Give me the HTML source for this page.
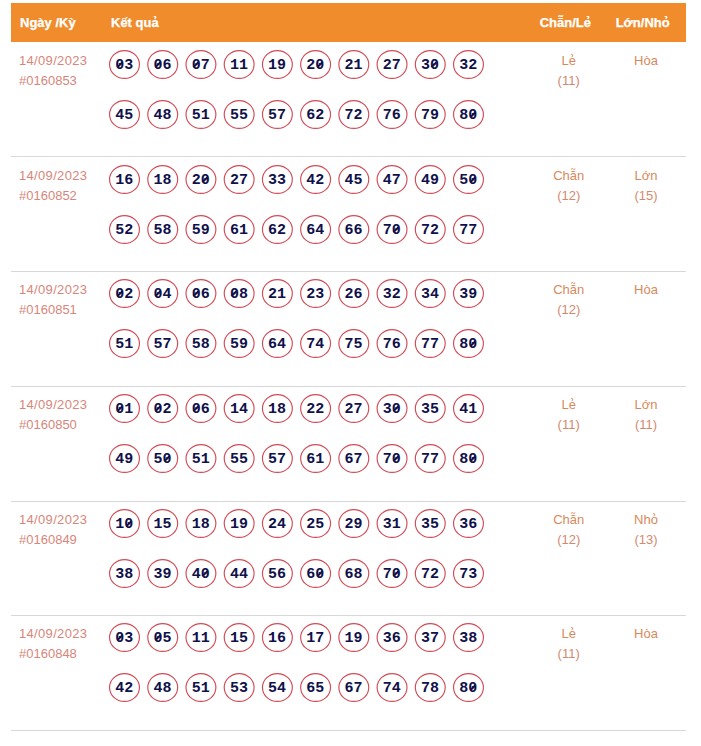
<!DOCTYPE html>
<html><head><meta charset="utf-8"><style>
html,body{margin:0;padding:0;background:#fff;width:701px;height:746px;overflow:hidden;position:relative}
body{font-family:"Liberation Sans",sans-serif}
.hd{position:absolute;left:11px;top:3px;width:675px;height:39px;background:#f08c2c}
.ht{position:absolute;color:#fff;font-weight:bold;-webkit-text-stroke:0.25px #fff;font-size:13px;line-height:20px;white-space:nowrap;top:13px}
.sep{position:absolute;left:11px;width:675px;height:1px;background:#d8d8d8}
.dt{position:absolute;left:19px;font-size:13px;line-height:20px;color:#d8867a;white-space:nowrap}
.b{position:absolute;box-sizing:border-box;width:31px;height:29px;
 font-family:"Liberation Mono",monospace;font-weight:bold;font-size:15px;color:#10104a;text-align:center;line-height:32px;letter-spacing:0px;text-indent:-0.5px}
.r{position:absolute;font-size:13px;line-height:20px;color:#d8895c;text-align:center;width:80px;white-space:nowrap}
.r2{color:#d38970;letter-spacing:0px}
.z{position:relative}
.hk{position:relative}
.hks{position:absolute}
.z::after{content:"";position:absolute;left:3.3px;top:4.3px;width:1.6px;height:7px;background:#10104a;transform:rotate(45deg)}
.d1{letter-spacing:0.33px}
</style></head><body>
<div class="hd"></div>
<div class="ht" style="left:20px">Ngày /Kỳ</div>
<div class="ht" style="left:111px">Kết qu<span class="hk">a<svg class="hks" width="4" height="5" style="left:1.72px;top:0.6px" fill="none" stroke="currentColor" stroke-width="1.3"><path d="M0.9 1.1C1.2 0.4 2.8 0.4 2.8 1.3C2.8 2 2 2.1 1.9 3.1"/></svg></span></div>
<div class="ht" style="left:525.4px;width:80px;text-align:center">Chẵn/L<span class="hk">e<svg class="hks" width="4" height="5" style="left:1.72px;top:0.6px" fill="none" stroke="currentColor" stroke-width="1.3"><path d="M0.9 1.1C1.2 0.4 2.8 0.4 2.8 1.3C2.8 2 2 2.1 1.9 3.1"/></svg></span></div>
<div class="ht" style="left:602.7px;width:80px;text-align:center">Lớn/Nh<span class="hk">o<svg class="hks" width="4" height="5" style="left:2.07px;top:0.6px" fill="none" stroke="currentColor" stroke-width="1.3"><path d="M0.9 1.1C1.2 0.4 2.8 0.4 2.8 1.3C2.8 2 2 2.1 1.9 3.1"/></svg></span></div>

<div class="dt" style="top:51px"><span class="d1">14/09/2023</span><br>#0160853</div>
<div class="b" style="left:109.00px;top:50px"><span class="z">0</span>3</div>
<div class="b" style="left:147.22px;top:50px"><span class="z">0</span>6</div>
<div class="b" style="left:185.44px;top:50px"><span class="z">0</span>7</div>
<div class="b" style="left:223.66px;top:50px">11</div>
<div class="b" style="left:261.88px;top:50px">19</div>
<div class="b" style="left:300.10px;top:50px">2<span class="z">0</span></div>
<div class="b" style="left:338.32px;top:50px">21</div>
<div class="b" style="left:376.54px;top:50px">27</div>
<div class="b" style="left:414.76px;top:50px">3<span class="z">0</span></div>
<div class="b" style="left:452.98px;top:50px">32</div>
<div class="b" style="left:109.00px;top:100px">45</div>
<div class="b" style="left:147.22px;top:100px">48</div>
<div class="b" style="left:185.44px;top:100px">51</div>
<div class="b" style="left:223.66px;top:100px">55</div>
<div class="b" style="left:261.88px;top:100px">57</div>
<div class="b" style="left:300.10px;top:100px">62</div>
<div class="b" style="left:338.32px;top:100px">72</div>
<div class="b" style="left:376.54px;top:100px">76</div>
<div class="b" style="left:414.76px;top:100px">79</div>
<div class="b" style="left:452.98px;top:100px">8<span class="z">0</span></div>
<div class="r" style="left:528.7px;top:51px">L<span class="hk">e<svg class="hks" width="4" height="5" style="left:1.72px;top:1.3px" fill="none" stroke="currentColor" stroke-width="1.0"><path d="M0.9 1.1C1.2 0.4 2.8 0.4 2.8 1.3C2.8 2 2 2.1 1.9 3.1"/></svg></span><br><span class="r2">(11)</span></div>
<div class="r" style="left:606px;top:51px">Hòa</div>
<div class="sep" style="top:156px"></div>
<div class="dt" style="top:166px"><span class="d1">14/09/2023</span><br>#0160852</div>
<div class="b" style="left:109.00px;top:165px">16</div>
<div class="b" style="left:147.22px;top:165px">18</div>
<div class="b" style="left:185.44px;top:165px">2<span class="z">0</span></div>
<div class="b" style="left:223.66px;top:165px">27</div>
<div class="b" style="left:261.88px;top:165px">33</div>
<div class="b" style="left:300.10px;top:165px">42</div>
<div class="b" style="left:338.32px;top:165px">45</div>
<div class="b" style="left:376.54px;top:165px">47</div>
<div class="b" style="left:414.76px;top:165px">49</div>
<div class="b" style="left:452.98px;top:165px">5<span class="z">0</span></div>
<div class="b" style="left:109.00px;top:215px">52</div>
<div class="b" style="left:147.22px;top:215px">58</div>
<div class="b" style="left:185.44px;top:215px">59</div>
<div class="b" style="left:223.66px;top:215px">61</div>
<div class="b" style="left:261.88px;top:215px">62</div>
<div class="b" style="left:300.10px;top:215px">64</div>
<div class="b" style="left:338.32px;top:215px">66</div>
<div class="b" style="left:376.54px;top:215px">7<span class="z">0</span></div>
<div class="b" style="left:414.76px;top:215px">72</div>
<div class="b" style="left:452.98px;top:215px">77</div>
<div class="r" style="left:528.7px;top:166px">Chẵn<br><span class="r2">(12)</span></div>
<div class="r" style="left:606px;top:166px">Lớn<br><span class="r2">(15)</span></div>
<div class="sep" style="top:271px"></div>
<div class="dt" style="top:280px"><span class="d1">14/09/2023</span><br>#0160851</div>
<div class="b" style="left:109.00px;top:279px"><span class="z">0</span>2</div>
<div class="b" style="left:147.22px;top:279px"><span class="z">0</span>4</div>
<div class="b" style="left:185.44px;top:279px"><span class="z">0</span>6</div>
<div class="b" style="left:223.66px;top:279px"><span class="z">0</span>8</div>
<div class="b" style="left:261.88px;top:279px">21</div>
<div class="b" style="left:300.10px;top:279px">23</div>
<div class="b" style="left:338.32px;top:279px">26</div>
<div class="b" style="left:376.54px;top:279px">32</div>
<div class="b" style="left:414.76px;top:279px">34</div>
<div class="b" style="left:452.98px;top:279px">39</div>
<div class="b" style="left:109.00px;top:329px">51</div>
<div class="b" style="left:147.22px;top:329px">57</div>
<div class="b" style="left:185.44px;top:329px">58</div>
<div class="b" style="left:223.66px;top:329px">59</div>
<div class="b" style="left:261.88px;top:329px">64</div>
<div class="b" style="left:300.10px;top:329px">74</div>
<div class="b" style="left:338.32px;top:329px">75</div>
<div class="b" style="left:376.54px;top:329px">76</div>
<div class="b" style="left:414.76px;top:329px">77</div>
<div class="b" style="left:452.98px;top:329px">8<span class="z">0</span></div>
<div class="r" style="left:528.7px;top:280px">Chẵn<br><span class="r2">(12)</span></div>
<div class="r" style="left:606px;top:280px">Hòa</div>
<div class="sep" style="top:386px"></div>
<div class="dt" style="top:395px"><span class="d1">14/09/2023</span><br>#0160850</div>
<div class="b" style="left:109.00px;top:394px"><span class="z">0</span>1</div>
<div class="b" style="left:147.22px;top:394px"><span class="z">0</span>2</div>
<div class="b" style="left:185.44px;top:394px"><span class="z">0</span>6</div>
<div class="b" style="left:223.66px;top:394px">14</div>
<div class="b" style="left:261.88px;top:394px">18</div>
<div class="b" style="left:300.10px;top:394px">22</div>
<div class="b" style="left:338.32px;top:394px">27</div>
<div class="b" style="left:376.54px;top:394px">3<span class="z">0</span></div>
<div class="b" style="left:414.76px;top:394px">35</div>
<div class="b" style="left:452.98px;top:394px">41</div>
<div class="b" style="left:109.00px;top:444px">49</div>
<div class="b" style="left:147.22px;top:444px">5<span class="z">0</span></div>
<div class="b" style="left:185.44px;top:444px">51</div>
<div class="b" style="left:223.66px;top:444px">55</div>
<div class="b" style="left:261.88px;top:444px">57</div>
<div class="b" style="left:300.10px;top:444px">61</div>
<div class="b" style="left:338.32px;top:444px">67</div>
<div class="b" style="left:376.54px;top:444px">7<span class="z">0</span></div>
<div class="b" style="left:414.76px;top:444px">77</div>
<div class="b" style="left:452.98px;top:444px">8<span class="z">0</span></div>
<div class="r" style="left:528.7px;top:395px">L<span class="hk">e<svg class="hks" width="4" height="5" style="left:1.72px;top:1.3px" fill="none" stroke="currentColor" stroke-width="1.0"><path d="M0.9 1.1C1.2 0.4 2.8 0.4 2.8 1.3C2.8 2 2 2.1 1.9 3.1"/></svg></span><br><span class="r2">(11)</span></div>
<div class="r" style="left:606px;top:395px">Lớn<br><span class="r2">(11)</span></div>
<div class="sep" style="top:501px"></div>
<div class="dt" style="top:510px"><span class="d1">14/09/2023</span><br>#0160849</div>
<div class="b" style="left:109.00px;top:509px">1<span class="z">0</span></div>
<div class="b" style="left:147.22px;top:509px">15</div>
<div class="b" style="left:185.44px;top:509px">18</div>
<div class="b" style="left:223.66px;top:509px">19</div>
<div class="b" style="left:261.88px;top:509px">24</div>
<div class="b" style="left:300.10px;top:509px">25</div>
<div class="b" style="left:338.32px;top:509px">29</div>
<div class="b" style="left:376.54px;top:509px">31</div>
<div class="b" style="left:414.76px;top:509px">35</div>
<div class="b" style="left:452.98px;top:509px">36</div>
<div class="b" style="left:109.00px;top:559px">38</div>
<div class="b" style="left:147.22px;top:559px">39</div>
<div class="b" style="left:185.44px;top:559px">4<span class="z">0</span></div>
<div class="b" style="left:223.66px;top:559px">44</div>
<div class="b" style="left:261.88px;top:559px">56</div>
<div class="b" style="left:300.10px;top:559px">6<span class="z">0</span></div>
<div class="b" style="left:338.32px;top:559px">68</div>
<div class="b" style="left:376.54px;top:559px">7<span class="z">0</span></div>
<div class="b" style="left:414.76px;top:559px">72</div>
<div class="b" style="left:452.98px;top:559px">73</div>
<div class="r" style="left:528.7px;top:510px">Chẵn<br><span class="r2">(12)</span></div>
<div class="r" style="left:606px;top:510px">Nh<span class="hk">o<svg class="hks" width="4" height="5" style="left:1.72px;top:1.3px" fill="none" stroke="currentColor" stroke-width="1.0"><path d="M0.9 1.1C1.2 0.4 2.8 0.4 2.8 1.3C2.8 2 2 2.1 1.9 3.1"/></svg></span><br><span class="r2">(13)</span></div>
<div class="sep" style="top:615px"></div>
<div class="dt" style="top:624px"><span class="d1">14/09/2023</span><br>#0160848</div>
<div class="b" style="left:109.00px;top:623px"><span class="z">0</span>3</div>
<div class="b" style="left:147.22px;top:623px"><span class="z">0</span>5</div>
<div class="b" style="left:185.44px;top:623px">11</div>
<div class="b" style="left:223.66px;top:623px">15</div>
<div class="b" style="left:261.88px;top:623px">16</div>
<div class="b" style="left:300.10px;top:623px">17</div>
<div class="b" style="left:338.32px;top:623px">19</div>
<div class="b" style="left:376.54px;top:623px">36</div>
<div class="b" style="left:414.76px;top:623px">37</div>
<div class="b" style="left:452.98px;top:623px">38</div>
<div class="b" style="left:109.00px;top:673px">42</div>
<div class="b" style="left:147.22px;top:673px">48</div>
<div class="b" style="left:185.44px;top:673px">51</div>
<div class="b" style="left:223.66px;top:673px">53</div>
<div class="b" style="left:261.88px;top:673px">54</div>
<div class="b" style="left:300.10px;top:673px">65</div>
<div class="b" style="left:338.32px;top:673px">67</div>
<div class="b" style="left:376.54px;top:673px">74</div>
<div class="b" style="left:414.76px;top:673px">78</div>
<div class="b" style="left:452.98px;top:673px">8<span class="z">0</span></div>
<div class="r" style="left:528.7px;top:624px">L<span class="hk">e<svg class="hks" width="4" height="5" style="left:1.72px;top:1.3px" fill="none" stroke="currentColor" stroke-width="1.0"><path d="M0.9 1.1C1.2 0.4 2.8 0.4 2.8 1.3C2.8 2 2 2.1 1.9 3.1"/></svg></span><br><span class="r2">(11)</span></div>
<div class="r" style="left:606px;top:624px">Hòa</div>
<div class="sep" style="top:730px"></div>
<svg width="701" height="746" style="position:absolute;left:0;top:0" fill="none" stroke="#d24a56" stroke-width="1.15"><ellipse cx="124.50" cy="64.50" rx="14.93" ry="13.93"/><ellipse cx="162.72" cy="64.50" rx="14.93" ry="13.93"/><ellipse cx="200.94" cy="64.50" rx="14.93" ry="13.93"/><ellipse cx="239.16" cy="64.50" rx="14.93" ry="13.93"/><ellipse cx="277.38" cy="64.50" rx="14.93" ry="13.93"/><ellipse cx="315.60" cy="64.50" rx="14.93" ry="13.93"/><ellipse cx="353.82" cy="64.50" rx="14.93" ry="13.93"/><ellipse cx="392.04" cy="64.50" rx="14.93" ry="13.93"/><ellipse cx="430.26" cy="64.50" rx="14.93" ry="13.93"/><ellipse cx="468.48" cy="64.50" rx="14.93" ry="13.93"/><ellipse cx="124.50" cy="114.50" rx="14.93" ry="13.93"/><ellipse cx="162.72" cy="114.50" rx="14.93" ry="13.93"/><ellipse cx="200.94" cy="114.50" rx="14.93" ry="13.93"/><ellipse cx="239.16" cy="114.50" rx="14.93" ry="13.93"/><ellipse cx="277.38" cy="114.50" rx="14.93" ry="13.93"/><ellipse cx="315.60" cy="114.50" rx="14.93" ry="13.93"/><ellipse cx="353.82" cy="114.50" rx="14.93" ry="13.93"/><ellipse cx="392.04" cy="114.50" rx="14.93" ry="13.93"/><ellipse cx="430.26" cy="114.50" rx="14.93" ry="13.93"/><ellipse cx="468.48" cy="114.50" rx="14.93" ry="13.93"/><ellipse cx="124.50" cy="179.50" rx="14.93" ry="13.93"/><ellipse cx="162.72" cy="179.50" rx="14.93" ry="13.93"/><ellipse cx="200.94" cy="179.50" rx="14.93" ry="13.93"/><ellipse cx="239.16" cy="179.50" rx="14.93" ry="13.93"/><ellipse cx="277.38" cy="179.50" rx="14.93" ry="13.93"/><ellipse cx="315.60" cy="179.50" rx="14.93" ry="13.93"/><ellipse cx="353.82" cy="179.50" rx="14.93" ry="13.93"/><ellipse cx="392.04" cy="179.50" rx="14.93" ry="13.93"/><ellipse cx="430.26" cy="179.50" rx="14.93" ry="13.93"/><ellipse cx="468.48" cy="179.50" rx="14.93" ry="13.93"/><ellipse cx="124.50" cy="229.50" rx="14.93" ry="13.93"/><ellipse cx="162.72" cy="229.50" rx="14.93" ry="13.93"/><ellipse cx="200.94" cy="229.50" rx="14.93" ry="13.93"/><ellipse cx="239.16" cy="229.50" rx="14.93" ry="13.93"/><ellipse cx="277.38" cy="229.50" rx="14.93" ry="13.93"/><ellipse cx="315.60" cy="229.50" rx="14.93" ry="13.93"/><ellipse cx="353.82" cy="229.50" rx="14.93" ry="13.93"/><ellipse cx="392.04" cy="229.50" rx="14.93" ry="13.93"/><ellipse cx="430.26" cy="229.50" rx="14.93" ry="13.93"/><ellipse cx="468.48" cy="229.50" rx="14.93" ry="13.93"/><ellipse cx="124.50" cy="293.50" rx="14.93" ry="13.93"/><ellipse cx="162.72" cy="293.50" rx="14.93" ry="13.93"/><ellipse cx="200.94" cy="293.50" rx="14.93" ry="13.93"/><ellipse cx="239.16" cy="293.50" rx="14.93" ry="13.93"/><ellipse cx="277.38" cy="293.50" rx="14.93" ry="13.93"/><ellipse cx="315.60" cy="293.50" rx="14.93" ry="13.93"/><ellipse cx="353.82" cy="293.50" rx="14.93" ry="13.93"/><ellipse cx="392.04" cy="293.50" rx="14.93" ry="13.93"/><ellipse cx="430.26" cy="293.50" rx="14.93" ry="13.93"/><ellipse cx="468.48" cy="293.50" rx="14.93" ry="13.93"/><ellipse cx="124.50" cy="343.50" rx="14.93" ry="13.93"/><ellipse cx="162.72" cy="343.50" rx="14.93" ry="13.93"/><ellipse cx="200.94" cy="343.50" rx="14.93" ry="13.93"/><ellipse cx="239.16" cy="343.50" rx="14.93" ry="13.93"/><ellipse cx="277.38" cy="343.50" rx="14.93" ry="13.93"/><ellipse cx="315.60" cy="343.50" rx="14.93" ry="13.93"/><ellipse cx="353.82" cy="343.50" rx="14.93" ry="13.93"/><ellipse cx="392.04" cy="343.50" rx="14.93" ry="13.93"/><ellipse cx="430.26" cy="343.50" rx="14.93" ry="13.93"/><ellipse cx="468.48" cy="343.50" rx="14.93" ry="13.93"/><ellipse cx="124.50" cy="408.50" rx="14.93" ry="13.93"/><ellipse cx="162.72" cy="408.50" rx="14.93" ry="13.93"/><ellipse cx="200.94" cy="408.50" rx="14.93" ry="13.93"/><ellipse cx="239.16" cy="408.50" rx="14.93" ry="13.93"/><ellipse cx="277.38" cy="408.50" rx="14.93" ry="13.93"/><ellipse cx="315.60" cy="408.50" rx="14.93" ry="13.93"/><ellipse cx="353.82" cy="408.50" rx="14.93" ry="13.93"/><ellipse cx="392.04" cy="408.50" rx="14.93" ry="13.93"/><ellipse cx="430.26" cy="408.50" rx="14.93" ry="13.93"/><ellipse cx="468.48" cy="408.50" rx="14.93" ry="13.93"/><ellipse cx="124.50" cy="458.50" rx="14.93" ry="13.93"/><ellipse cx="162.72" cy="458.50" rx="14.93" ry="13.93"/><ellipse cx="200.94" cy="458.50" rx="14.93" ry="13.93"/><ellipse cx="239.16" cy="458.50" rx="14.93" ry="13.93"/><ellipse cx="277.38" cy="458.50" rx="14.93" ry="13.93"/><ellipse cx="315.60" cy="458.50" rx="14.93" ry="13.93"/><ellipse cx="353.82" cy="458.50" rx="14.93" ry="13.93"/><ellipse cx="392.04" cy="458.50" rx="14.93" ry="13.93"/><ellipse cx="430.26" cy="458.50" rx="14.93" ry="13.93"/><ellipse cx="468.48" cy="458.50" rx="14.93" ry="13.93"/><ellipse cx="124.50" cy="523.50" rx="14.93" ry="13.93"/><ellipse cx="162.72" cy="523.50" rx="14.93" ry="13.93"/><ellipse cx="200.94" cy="523.50" rx="14.93" ry="13.93"/><ellipse cx="239.16" cy="523.50" rx="14.93" ry="13.93"/><ellipse cx="277.38" cy="523.50" rx="14.93" ry="13.93"/><ellipse cx="315.60" cy="523.50" rx="14.93" ry="13.93"/><ellipse cx="353.82" cy="523.50" rx="14.93" ry="13.93"/><ellipse cx="392.04" cy="523.50" rx="14.93" ry="13.93"/><ellipse cx="430.26" cy="523.50" rx="14.93" ry="13.93"/><ellipse cx="468.48" cy="523.50" rx="14.93" ry="13.93"/><ellipse cx="124.50" cy="573.50" rx="14.93" ry="13.93"/><ellipse cx="162.72" cy="573.50" rx="14.93" ry="13.93"/><ellipse cx="200.94" cy="573.50" rx="14.93" ry="13.93"/><ellipse cx="239.16" cy="573.50" rx="14.93" ry="13.93"/><ellipse cx="277.38" cy="573.50" rx="14.93" ry="13.93"/><ellipse cx="315.60" cy="573.50" rx="14.93" ry="13.93"/><ellipse cx="353.82" cy="573.50" rx="14.93" ry="13.93"/><ellipse cx="392.04" cy="573.50" rx="14.93" ry="13.93"/><ellipse cx="430.26" cy="573.50" rx="14.93" ry="13.93"/><ellipse cx="468.48" cy="573.50" rx="14.93" ry="13.93"/><ellipse cx="124.50" cy="637.50" rx="14.93" ry="13.93"/><ellipse cx="162.72" cy="637.50" rx="14.93" ry="13.93"/><ellipse cx="200.94" cy="637.50" rx="14.93" ry="13.93"/><ellipse cx="239.16" cy="637.50" rx="14.93" ry="13.93"/><ellipse cx="277.38" cy="637.50" rx="14.93" ry="13.93"/><ellipse cx="315.60" cy="637.50" rx="14.93" ry="13.93"/><ellipse cx="353.82" cy="637.50" rx="14.93" ry="13.93"/><ellipse cx="392.04" cy="637.50" rx="14.93" ry="13.93"/><ellipse cx="430.26" cy="637.50" rx="14.93" ry="13.93"/><ellipse cx="468.48" cy="637.50" rx="14.93" ry="13.93"/><ellipse cx="124.50" cy="687.50" rx="14.93" ry="13.93"/><ellipse cx="162.72" cy="687.50" rx="14.93" ry="13.93"/><ellipse cx="200.94" cy="687.50" rx="14.93" ry="13.93"/><ellipse cx="239.16" cy="687.50" rx="14.93" ry="13.93"/><ellipse cx="277.38" cy="687.50" rx="14.93" ry="13.93"/><ellipse cx="315.60" cy="687.50" rx="14.93" ry="13.93"/><ellipse cx="353.82" cy="687.50" rx="14.93" ry="13.93"/><ellipse cx="392.04" cy="687.50" rx="14.93" ry="13.93"/><ellipse cx="430.26" cy="687.50" rx="14.93" ry="13.93"/><ellipse cx="468.48" cy="687.50" rx="14.93" ry="13.93"/></svg>
</body></html>
